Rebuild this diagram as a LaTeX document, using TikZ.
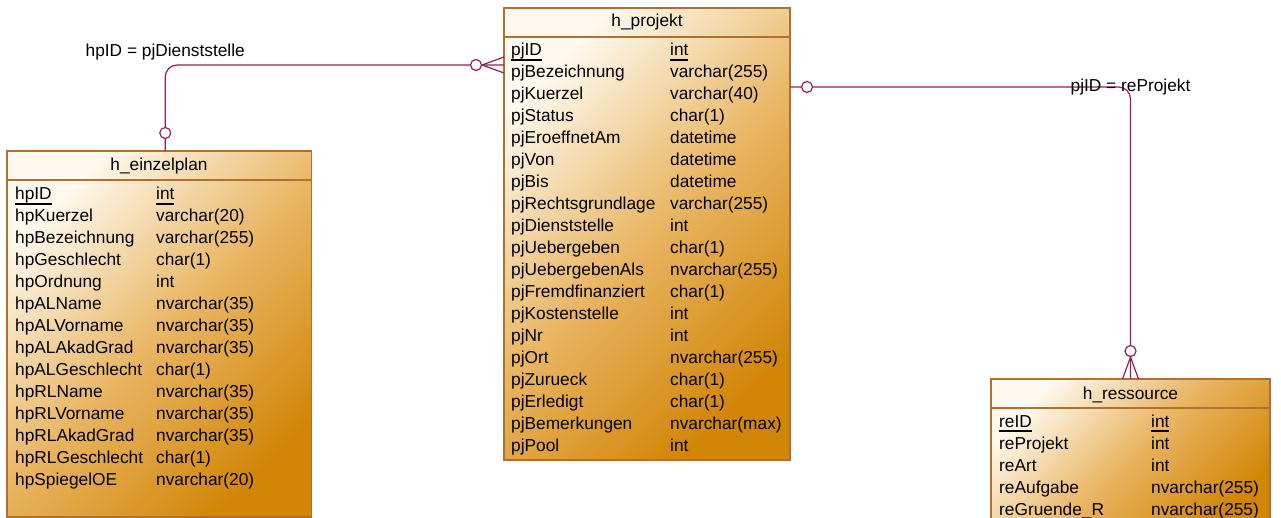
\documentclass[tikz,border=0pt]{standalone}
\usepackage{fontspec}
\setmainfont{Liberation Sans}
\definecolor{tablelight}{RGB}{254, 249, 238}
\definecolor{tablemid}{RGB}{233, 182, 100}
\definecolor{tabledark}{RGB}{210, 134, 8}
\definecolor{tableborder}{RGB}{176, 112, 48}
\definecolor{relline}{RGB}{148, 32, 88}
\newcommand{\pkfield}[1]{\leavevmode\setbox0\hbox{#1}%
    \rlap{\rule[-4.6pt]{\wd0}{1.8pt}}\box0}
\tikzset{
    table/.style={draw=tableborder, line width=1.3pt, top color=tablelight,
        bottom color=tabledark, middle color=tablemid, shading angle=45,
        anchor=north west, inner sep=0pt, outer sep=0pt},
    title/.style={anchor=base, inner sep=0pt},
    fields/.style={anchor=base west, inner sep=0pt},
    relation/.style={draw=relline, line width=1.2pt},
    nullmark/.style={circle, draw=relline, fill=white, line width=1.2pt,
        inner sep=0pt, minimum size=11pt}
}

\begin{document}
\begin{tikzpicture}[x=1pt, y=-1pt, font=\fontsize{17.3}{22}\selectfont]
    \clip (0, 0) rectangle (1281, 518);

    \node[table, minimum width=304.5pt, minimum height=366pt] (einzelplan)
        at (7, 151) {};
    \node[title] (einzelplan-title) at (159, 171) {h\_einzelplan};
    \draw[tableborder, line width=1.3pt] ([yshift=-29pt]einzelplan.north west)
        -- ([yshift=-29pt]einzelplan.north east);
    \node[fields] (einzelplan-fields) at (15, 200) {%
        \begin{tabular}[t]{@{}p{141pt}@{}l@{}}
            \pkfield{hpID} & \pkfield{int}\\
            hpKuerzel & varchar(20)\\
            hpBezeichnung & varchar(255)\\
            hpGeschlecht & char(1)\\
            hpOrdnung & int\\
            hpALName & nvarchar(35)\\
            hpALVorname & nvarchar(35)\\
            hpALAkadGrad & nvarchar(35)\\
            hpALGeschlecht & char(1)\\
            hpRLName & nvarchar(35)\\
            hpRLVorname & nvarchar(35)\\
            hpRLAkadGrad & nvarchar(35)\\
            hpRLGeschlecht & char(1)\\
            hpSpiegelOE & nvarchar(20)
        \end{tabular}};

    \node[table, minimum width=286pt, minimum height=452pt] (projekt)
        at (504, 8) {};
    \node[title] (projekt-title) at (647, 27) {h\_projekt};
    \draw[tableborder, line width=1.3pt] ([yshift=-29pt]projekt.north west)
        -- ([yshift=-29pt]projekt.north east);
    \node[fields] (projekt-fields) at (511, 56) {%
        \begin{tabular}[t]{@{}p{159pt}@{}l@{}}
            \pkfield{pjID} & \pkfield{int}\\
            pjBezeichnung & varchar(255)\\
            pjKuerzel & varchar(40)\\
            pjStatus & char(1)\\
            pjEroeffnetAm & datetime\\
            pjVon & datetime\\
            pjBis & datetime\\
            pjRechtsgrundlage & varchar(255)\\
            pjDienststelle & int\\
            pjUebergeben & char(1)\\
            pjUebergebenAls & nvarchar(255)\\
            pjFremdfinanziert & char(1)\\
            pjKostenstelle & int\\
            pjNr & int\\
            pjOrt & nvarchar(255)\\
            pjZurueck & char(1)\\
            pjErledigt & char(1)\\
            pjBemerkungen & nvarchar(max)\\
            pjPool & int
        \end{tabular}};

    \node[table, minimum width=279pt, minimum height=150pt] (ressource)
        at (991, 379) {};
    \node[title] (ressource-title) at (1130.5, 399) {h\_ressource};
    \draw[tableborder, line width=1.3pt] ([yshift=-29pt]ressource.north west)
        -- ([yshift=-29pt]ressource.north east);
    \node[fields] (ressource-fields) at (999, 427) {%
        \begin{tabular}[t]{@{}p{152pt}@{}l@{}}
            \pkfield{reID} & \pkfield{int}\\
            reProjekt & int\\
            reArt & int\\
            reAufgabe & nvarchar(255)\\
            reGruende\_R & nvarchar(255)
        \end{tabular}};

    % hpID = pjDienststelle
    \coordinate (hp-link) at ([xshift=6pt]einzelplan.north);
    \coordinate (pj-link-in) at ([yshift=-57pt]projekt.north west);
    \draw[relation, rounded corners=12pt] (hp-link) |- (pj-link-in);
    \node[nullmark] (hp-opt) at ([yshift=18pt]hp-link) {};
    \node[nullmark] (pj-opt-in) at ([xshift=-28pt]pj-link-in) {};
    \draw[relation] (pj-opt-in.east) -- ([yshift=8pt]pj-link-in);
    \draw[relation] (pj-opt-in.east) -- ([yshift=-8pt]pj-link-in);
    \node[anchor=base] (hp-label) at ([yshift=8pt]hp-link |- pj-link-in)
        {hpID = pjDienststelle};

    % pjID = reProjekt
    \coordinate (pj-link-out) at ([yshift=-79pt]projekt.north east);
    \coordinate (re-link) at (ressource.north);
    \draw[relation, rounded corners=12pt] (pj-link-out) -| (re-link);
    \node[nullmark] (pj-opt-out) at ([xshift=17pt]pj-link-out) {};
    \node[nullmark] (re-opt) at ([yshift=28pt]re-link) {};
    \draw[relation] (re-opt.south) -- ([xshift=-8pt]re-link);
    \draw[relation] (re-opt.south) -- ([xshift=8pt]re-link);
    \node[anchor=base] (re-label) at ([yshift=-5pt]re-link |- pj-link-out)
        {pjID = reProjekt};
\end{tikzpicture}
\end{document}
